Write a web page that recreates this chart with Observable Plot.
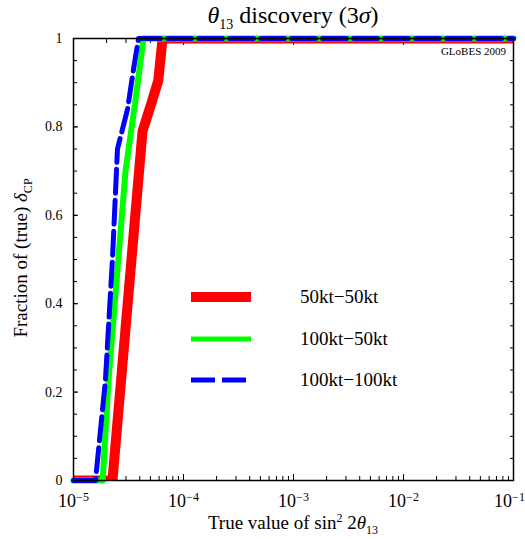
<!DOCTYPE html>
<html><head><meta charset="utf-8">
<script src="https://cdn.jsdelivr.net/npm/d3@7"></script>
<script src="https://cdn.jsdelivr.net/npm/@observablehq/plot@0.6"></script>
<style>
body{margin:0;background:#fff;font-family:"Liberation Serif",serif;color:#000}
#wrap{position:relative;width:525px;height:539px}
.ov{position:absolute;white-space:nowrap;font-family:"Liberation Serif",serif}
#title{left:0;width:586px;text-align:center;top:1px;font-size:24px;line-height:28px}
#xlab{left:0;width:586px;text-align:center;top:512px;font-size:19px;line-height:22px}
#ylab{left:21px;top:258px;font-size:19px;transform:translate(-50%,-50%) rotate(-90deg)}
#globes{right:19px;top:45px;font-size:11px}
#legend{position:absolute;left:0;top:0}
sub,sup{line-height:0}
</style></head><body>
<div id="wrap">
  <div class="ov" id="title"><i>θ</i><sub style="font-size:14px">13</sub> discovery (3<i>σ</i>)</div>
  <div class="ov" id="xlab">True value of sin<sup style="font-size:12px">2</sup> 2<i>θ</i><sub style="font-size:12px">13</sub></div>
  <div class="ov" id="ylab">Fraction of (true) <i>δ</i><sub style="font-size:12px">CP</sub></div>
  <div class="ov" id="globes">GLoBES 2009</div>
</div>
<script>
// series: x = true sin^2 2θ13, y = fraction of δCP
const seriesNames = ["50kt\u221250kt", "100kt\u221250kt", "100kt\u2212100kt"];
const seriesColors = ["#ff0000", "#00ff00", "#0000ff"];
const redX = [1e-5, 2.26e-5, 4.24e-5, 5.2e-5, 5.9e-5, 6.45e-5, 1e-1];
const redY = [0, 0, 0.79, 0.86, 0.905, 1, 1];
const greenX = [1e-5, 1.84e-5, 2.08e-5, 2.97e-5, 3.66e-5, 4.33e-5, 1e-1];
const greenY = [0, 0, 0.226, 0.70, 0.86, 1, 1];
const blueX = [1e-5, 1.585e-5, 1.95e-5, 2.26e-5, 2.51e-5, 3.1e-5, 3.51e-5, 3.9e-5, 1e-1];
const blueY = [0, 0, 0.226, 0.5, 0.75, 0.84, 0.93, 1, 1];
const xMajor = [1e-5, 1e-4, 1e-3, 1e-2, 1e-1];
const xExponents = ["\u22125", "\u22124", "\u22123", "\u22122", "\u22121"];
const yMajor = [0, 0.2, 0.4, 0.6, 0.8, 1];
const yLabels = ["0", "0.2", "0.4", "0.6", "0.8", "1"];
const yMinor = d3.range(0, 1.0001, 0.05);

const xMinor = [];
for (let e = -5; e < -1; e++) for (let m = 2; m <= 9; m++) xMinor.push(m * Math.pow(10, e));

const toRows = (xs, ys) => xs.map((x, i) => ({x, y: ys[i]}));
const red = toRows(redX, redY), green = toRows(greenX, greenY), blue = toRows(blueX, blueY);

const chart = Plot.plot({
  width: 525, height: 539,
  marginLeft: 73, marginRight: 12, marginTop: 38, marginBottom: 59,
  style: {fontFamily: "Liberation Serif, serif", fontSize: "15px", color: "#000", background: "transparent"},
  x: {type: "log", domain: [1e-5, 1e-1]},
  y: {domain: [0, 1]},
  marks: [
    Plot.axisX(xMajor, {anchor: "bottom", tickSize: -6, tickPadding: 20, tickFormat: d => "10^" + xExponents[xMajor.indexOf(d)], label: null}),
    Plot.axisX(xMinor, {anchor: "bottom", tickSize: -4, tickFormat: () => "", label: null}),
    Plot.axisX(xMajor, {anchor: "top", tickSize: -6, tickFormat: () => "", label: null}),
    Plot.axisX(xMinor, {anchor: "top", tickSize: -4, tickFormat: () => "", label: null}),
    Plot.axisY(yMajor, {anchor: "left", tickSize: -5, tickPadding: 16, tickFormat: d => yLabels[yMajor.indexOf(d)], label: null}),
    Plot.axisY(yMinor, {anchor: "left", tickSize: -4, tickFormat: () => "", label: null}),
    Plot.axisY(yMinor, {anchor: "right", tickSize: -4, tickFormat: () => "", label: null}),
    Plot.line(red, {x: "x", y: "y", stroke: seriesColors[0], strokeWidth: 10, strokeLinejoin: "miter", clip: true}),
    Plot.line(green, {x: "x", y: "y", stroke: seriesColors[1], strokeWidth: 6}),
    Plot.line(blue, {x: "x", y: "y", stroke: seriesColors[2], strokeWidth: 5, strokeDasharray: "24,7"}),
    Plot.frame({stroke: "#000", strokeWidth: 1.5})
  ]
});
// render exponents as superscripts
d3.select(chart).selectAll("text").each(function() {
  const t = this.textContent;
  if (t.startsWith("10^")) {
    const el = d3.select(this);
    el.text(null).style("font-size", "18px");
    if (t.endsWith("1")) el.attr("dx", -4);
    el.append("tspan").text("10");
    el.append("tspan").attr("dy", "-0.55em").style("font-size", "12px").text(t.slice(3));
  } else if (/^[0-9.]+$/.test(t)) {
    d3.select(this).style("font-size", "14px");
  }
});
const wrap = document.getElementById("wrap");
chart.style.position = "absolute"; chart.style.left = "0"; chart.style.top = "0";
wrap.insertBefore(chart, wrap.firstChild);

// legend
const lg = d3.select(wrap).append("svg").attr("id", "legend").attr("width", 525).attr("height", 539);
const widths = [10, 5, 5], dashes = [null, null, "24,7"], ys = [297, 339, 380];
seriesNames.forEach((n, i) => {
  lg.append("line").attr("x1", 191).attr("x2", 251).attr("y1", ys[i]).attr("y2", ys[i])
    .attr("stroke", seriesColors[i]).attr("stroke-width", widths[i]).attr("stroke-dasharray", dashes[i]);
  lg.append("text").attr("x", 300).attr("y", ys[i] + 6).attr("font-size", 19)
    .attr("font-family", "Liberation Serif, serif").text(n);
});
</script>
</body></html>
